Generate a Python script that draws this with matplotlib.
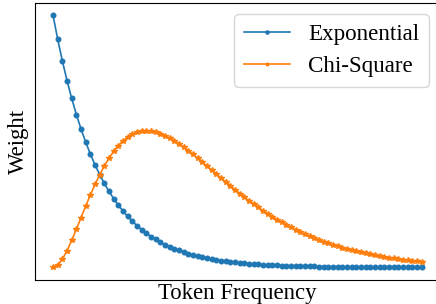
import numpy as np
import matplotlib
matplotlib.use("Agg")
import matplotlib.pyplot as plt

plt.rcParams['font.family'] = ['Liberation Serif', 'DejaVu Serif']

# token-frequency grid (80 samples)
token_freq = np.linspace(0.0, 7.9, 80)

exponential = [
    1.0000, 0.9048, 0.8187, 0.7408, 0.6703, 0.6065, 0.5488, 0.4966, 0.4493, 0.4066,
    0.3679, 0.3329, 0.3012, 0.2725, 0.2466, 0.2231, 0.2019, 0.1827, 0.1653, 0.1496,
    0.1353, 0.1225, 0.1108, 0.1003, 0.0907, 0.0821, 0.0743, 0.0672, 0.0608, 0.0550,
    0.0498, 0.0450, 0.0408, 0.0369, 0.0334, 0.0302, 0.0273, 0.0247, 0.0224, 0.0202,
    0.0183, 0.0166, 0.0150, 0.0136, 0.0123, 0.0111, 0.0101, 0.0091, 0.0082, 0.0074,
    0.0067, 0.0061, 0.0055, 0.0050, 0.0045, 0.0041, 0.0037, 0.0033, 0.0030, 0.0027,
    0.0025, 0.0022, 0.0020, 0.0018, 0.0017, 0.0015, 0.0014, 0.0012, 0.0011, 0.0010,
    0.0009, 0.0008, 0.0007, 0.0007, 0.0006, 0.0006, 0.0005, 0.0005, 0.0004, 0.0004,
]

chi_square = [
    0.0000, 0.0090, 0.0327, 0.0667, 0.1073, 0.1516, 0.1976, 0.2433, 0.2876, 0.3293,
    0.3679, 0.4028, 0.4337, 0.4606, 0.4833, 0.5020, 0.5169, 0.5280, 0.5356, 0.5399,
    0.5413, 0.5400, 0.5363, 0.5304, 0.5225, 0.5130, 0.5021, 0.4899, 0.4768, 0.4627,
    0.4481, 0.4329, 0.4174, 0.4017, 0.3858, 0.3699, 0.3541, 0.3385, 0.3230, 0.3079,
    0.2931, 0.2786, 0.2645, 0.2509, 0.2377, 0.2250, 0.2127, 0.2009, 0.1896, 0.1788,
    0.1684, 0.1586, 0.1492, 0.1402, 0.1317, 0.1236, 0.1160, 0.1087, 0.1019, 0.0953,
    0.0892, 0.0835, 0.0780, 0.0729, 0.0681, 0.0635, 0.0592, 0.0553, 0.0515, 0.0480,
    0.0447, 0.0416, 0.0387, 0.0360, 0.0335, 0.0311, 0.0289, 0.0269, 0.0249, 0.0232,
]

series_labels = ["Exponential", "Chi-Square"]

fig = plt.figure(figsize=(4.36, 3.04), dpi=100)
ax = fig.add_axes([0.0794, 0.079, 0.930, 0.912])

ax.plot(token_freq, exponential, color='#1f77b4', marker='o', markersize=3.3,
        linewidth=1.2, label=series_labels[0])
ax.plot(token_freq, chi_square, color='#ff7f0e', marker='*', markersize=3.8,
        linewidth=1.2, label=series_labels[1])

ax.set_xticks([])
ax.set_yticks([])
ax.set_xlabel("Token Frequency", fontsize=16.4, labelpad=2)
ax.set_ylabel("Weight", fontsize=16.4, labelpad=4)
ax.legend(loc='upper right', fontsize=16.6, markerscale=0.7)

fig.savefig("out.png", dpi=100)
